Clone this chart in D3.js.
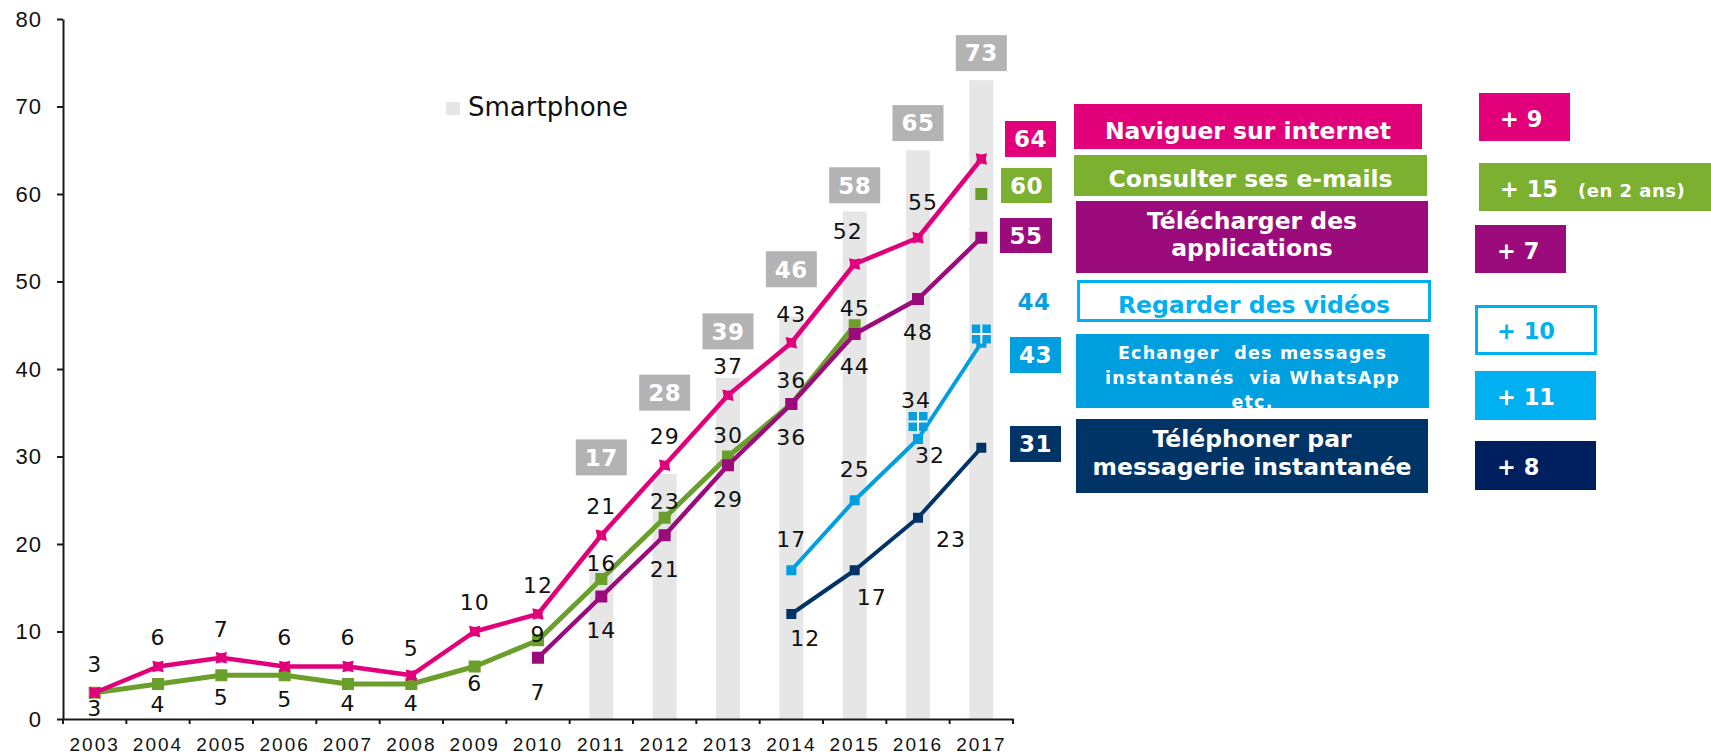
<!DOCTYPE html>
<html>
<head>
<meta charset="utf-8">
<script src="https://cdn.jsdelivr.net/npm/d3@7"></script>
<style>
  body { margin: 0; background: #fff; }
  svg { font-family: "DejaVu Sans", Verdana, sans-serif; }
  text { white-space: pre; }
</style>
</head>
<body>
<svg id="chart" width="1711" height="755"></svg>
<script>
// values
const years = ['2003','2004','2005','2006','2007','2008','2009','2010','2011','2012','2013','2014','2015','2016','2017'];
const smartphone = [null, null, null, null, null, null, null, null, 17, 28, 39, 46, 58, 65, 73];
const naviguer   = [3, 6, 7, 6, 6, 5, 10, 12, 21, 29, 37, 43, 52, 55, 64];
const emails     = [3, 4, 5, 5, 4, 4, 6, 9, 16, 23, 30, 36, 45, null, 60];
const applis     = [null, null, null, null, null, null, null, 7, 14, 21, 29, 36, 44, 48, 55];
const videos     = [null, null, null, null, null, null, null, null, null, null, null, null, null, 34, 44];
const messagerie = [null, null, null, null, null, null, null, null, null, null, null, 17, 25, 32, 43];
const telephoner = [null, null, null, null, null, null, null, null, null, null, null, 12, 17, 23, 31];
const yTicks = [0, 10, 20, 30, 40, 50, 60, 70, 80];

const rowNames = [
  ['Naviguer sur internet'],
  ['Consulter ses e-mails'],
  ['Télécharger des', 'applications'],
  ['Regarder des vidéos'],
  ['Echanger  des messages', 'instantanés  via WhatsApp', 'etc.'],
  ['Téléphoner par', 'messagerie instantanée']
];
const gains = ['+ 9', '+ 15', '+ 7', '+ 10', '+ 11', '+ 8'];

// where the grey value boxes sit (in data units)
const smartLabelAt = [null, null, null, null, null, null, null, null, 29.9, 37.3, 44.3, 51.4, 61, 68.1, 76.1];

const svg = d3.select('#chart');

const x = d3.scaleBand().domain(years).range([63, 1013]);
const y = d3.scaleLinear().domain([0, 80]).range([719, 19]);
const cx = i => x(years[i]) + x.bandwidth() / 2;

// smartphone bars
const barW = 24;
svg.append('g').selectAll('rect')
  .data(smartphone.map((v, i) => ({ v, i })).filter(d => d.v != null))
  .join('rect')
  .attr('x', d => cx(d.i) - barW / 2)
  .attr('y', d => y(d.v))
  .attr('width', barW)
  .attr('height', d => y(0) - y(d.v))
  .attr('fill', '#e6e6e6');

const smartLab = svg.append('g').selectAll('g')
  .data(smartphone.map((v, i) => ({ v, i })).filter(d => d.v != null))
  .join('g')
  .attr('transform', d => `translate(${cx(d.i)},${y(smartLabelAt[d.i])})`);
smartLab.append('rect')
  .attr('x', -25.5).attr('y', -18).attr('width', 51).attr('height', 36)
  .attr('fill', '#b3b3b3');
smartLab.append('text')
  .attr('text-anchor', 'middle').attr('dy', '0.36em')
  .attr('fill', '#fff').attr('font-weight', 'bold').attr('font-size', 23).attr('letter-spacing', 0.5)
  .text(d => d.v);

// legend "Smartphone"
svg.append('rect').attr('x', 446).attr('y', 102).attr('width', 14).attr('height', 13).attr('fill', '#e6e6e6');
svg.append('text').attr('x', 468).attr('y', 116).attr('font-size', 26).attr('fill', '#111').text('Smartphone');

// axes
const yAxis = svg.append('g')
  .attr('transform', 'translate(63,0)')
  .call(d3.axisLeft(y).tickValues(yTicks).tickSize(6).tickSizeOuter(0).tickPadding(15));
yAxis.selectAll('text').attr('font-size', 22).attr('letter-spacing', 1).attr('fill', '#111').attr('font-family', null);
yAxis.selectAll('line, path').attr('stroke', '#1a1a1a').attr('stroke-width', 2);

const xAxis = svg.append('g')
  .attr('transform', 'translate(0,719)')
  .call(d3.axisBottom(x).tickSize(0).tickPadding(19));
xAxis.selectAll('text').attr('font-size', 19).attr('letter-spacing', 2).attr('fill', '#111').attr('font-family', null);
xAxis.select('path').attr('stroke', '#1a1a1a').attr('stroke-width', 2);
xAxis.selectAll('.edge')
  .data(years.concat(['end']))
  .join('line')
  .attr('class', 'edge')
  .attr('x1', d => d === 'end' ? x.range()[1] : x(d))
  .attr('x2', d => d === 'end' ? x.range()[1] : x(d))
  .attr('y1', 0).attr('y2', 5)
  .attr('stroke', '#1a1a1a').attr('stroke-width', 2);

// series lines
function starPath(r, ri) {
  const p = [];
  for (let k = 0; k < 8; k++) {
    const a = Math.PI / 4 + k * Math.PI / 4;
    const rr = k % 2 === 0 ? r : ri;
    p.push([Math.cos(a) * rr, Math.sin(a) * rr]);
  }
  return 'M' + p.map(q => q.join(',')).join('L') + 'Z';
}

const series = [
  { values: emails,     color: '#6a9f2b', width: 5,   marker: 'square', size: 12,
    dy: [15, 20, 22, 24, 19, 19, 17, -6, -16, -17, -21, -24, -17, null, null], dx: [] },
  { values: applis,     color: '#9b0b7b', width: 4.5, marker: 'square', size: 12,
    dy: [null, null, null, null, null, null, null, 34, 34, 34, 34, 33, 32, 33, null], dx: [] },
  { values: naviguer,   color: '#e2007a', width: 4.5, marker: 'star', size: 8,
    dy: [-29, -29, -29, -29, -29, -27, -29, -29, -29, -29, -29, -29, -33, -36, null],
    dx: [0, 0, 0, 0, 0, 0, 0, 0, 0, 0, 0, 0, -7, 5, 0] },
  { values: messagerie, color: '#00a0e0', width: 4,   marker: 'square', size: 10,
    dy: [null, null, null, null, null, null, null, null, null, null, null, -31, -31, 16, null],
    dx: [0, 0, 0, 0, 0, 0, 0, 0, 0, 0, 0, 0, 0, 12, 0] },
  { values: telephoner, color: '#003366', width: 4,   marker: 'square', size: 10,
    dy: [null, null, null, null, null, null, null, null, null, null, null, 24, 27, 21, null],
    dx: [0, 0, 0, 0, 0, 0, 0, 0, 0, 0, 0, 14, 17, 33, 0] }
];

const line = d3.line()
  .defined(d => d.v != null)
  .x(d => cx(d.i))
  .y(d => y(d.v));

series.forEach(s => {
  const pts = s.values.map((v, i) => ({ v, i }));
  const g = svg.append('g');
  g.append('path')
    .datum(pts)
    .attr('d', line)
    .attr('fill', 'none')
    .attr('stroke', s.color)
    .attr('stroke-width', s.width)
    .attr('stroke-linejoin', 'round');
  const on = pts.filter(d => d.v != null);
  if (s.marker === 'square') {
    g.selectAll('rect').data(on).join('rect')
      .attr('x', d => cx(d.i) - s.size / 2)
      .attr('y', d => y(d.v) - s.size / 2)
      .attr('width', s.size).attr('height', s.size)
      .attr('fill', s.color);
  } else {
    g.selectAll('path.m').data(on).join('path')
      .attr('class', 'm')
      .attr('d', starPath(s.size, 4.5))
      .attr('transform', d => `translate(${cx(d.i)},${y(d.v)})`)
      .attr('fill', s.color);
  }
});

// "Regarder des vidéos" markers
const vid = svg.append('g').selectAll('g')
  .data(videos.map((v, i) => ({ v, i })).filter(d => d.v != null))
  .join('g')
  .attr('transform', d => `translate(${cx(d.i)},${y(d.v)})`);
vid.append('rect').attr('x', -9.5).attr('y', -9.5).attr('width', 19).attr('height', 19).attr('fill', '#0a9ede');
vid.append('line').attr('x1', -9.5).attr('x2', 9.5).attr('y1', 0).attr('y2', 0).attr('stroke', '#fff').attr('stroke-width', 2);
vid.append('line').attr('x1', 0).attr('x2', 0).attr('y1', -9.5).attr('y2', 9.5).attr('stroke', '#fff').attr('stroke-width', 2);

// data labels
const labG = svg.append('g').attr('font-size', 22).attr('letter-spacing', 1).attr('fill', '#111').attr('text-anchor', 'middle');
series.forEach(s => {
  s.values.forEach((v, i) => {
    if (v == null || s.dy[i] == null) return;
    labG.append('text')
      .attr('x', cx(i) + (s.dx[i] || 0))
      .attr('y', y(v) + s.dy[i])
      .attr('dy', '0.36em')
      .text(v);
  });
});
videos.forEach((v, i) => {
  if (v == null || i === years.length - 1) return;
  labG.append('text').attr('x', cx(i) - 2).attr('y', y(v) - 21).attr('dy', '0.36em').text(v);
});

// right-hand panel
const endValues = [naviguer, emails, applis, videos, messagerie, telephoner].map(a => a[a.length - 1]);
const rowColor  = ['#e2007a', '#7bb031', '#9c0b7b', '#00b0f0', '#009fe0', '#003366'];
const gainColor = ['#e2007a', '#7bb031', '#9c0b7b', '#00b0f0', '#00b0f0', '#001f5f'];
const rowLayout = [
  { val: [1005, 121, 51, 36], box: [1074, 104, 348, 45], gain: [1479, 93, 91, 48],  gx: 1500, gb: 127, lines: [138.5], fs: 23.5 },
  { val: [1001, 168, 51, 35], box: [1074, 155, 353, 41], gain: [1479, 163, 232, 48], gx: 1500, gb: 197, lines: [187], fs: 23.5 },
  { val: [1000, 218, 52, 35], box: [1076, 201, 352, 72], gain: [1475, 225, 91, 48],  gx: 1497, gb: 258.5, lines: [229, 256], fs: 23.5 },
  { val: null,                box: [1077, 280, 354, 42], gain: [1475, 305, 122, 50], gx: 1497, gb: 338.5, lines: [312.5], fs: 23.5, outline: true },
  { val: [1010, 337, 51, 36], box: [1076, 334, 353, 74], gain: [1475, 371, 121, 49], gx: 1497, gb: 405, lines: [358.5, 383.5, 408], fs: 17.5, ls: 1.2 },
  { val: [1010, 426, 51, 36], box: [1076, 419, 352, 74], gain: [1475, 441, 121, 49], gx: 1497, gb: 475, lines: [447, 475], fs: 23.5 }
];

const panel = svg.append('g').attr('font-weight', 'bold');
rowLayout.forEach((r, k) => {
  // value at 2017
  if (r.val) {
    panel.append('rect').attr('x', r.val[0]).attr('y', r.val[1]).attr('width', r.val[2]).attr('height', r.val[3]).attr('fill', rowColor[k]);
    panel.append('text').attr('x', r.val[0] + r.val[2] / 2).attr('y', r.val[1] + r.val[3] / 2).attr('dy', '0.36em')
      .attr('text-anchor', 'middle').attr('font-size', 23).attr('letter-spacing', 0.5).attr('fill', '#fff').text(endValues[k]);
  } else {
    panel.append('text').attr('x', 1034).attr('y', 302).attr('dy', '0.36em')
      .attr('text-anchor', 'middle').attr('font-size', 23).attr('letter-spacing', 0.5).attr('fill', '#0a9ede').text(endValues[k]);
  }
  // name box
  const b = r.box;
  if (r.outline) {
    panel.append('rect').attr('x', b[0] + 1.5).attr('y', b[1] + 1.5).attr('width', b[2] - 3).attr('height', b[3] - 3)
      .attr('fill', '#fff').attr('stroke', rowColor[k]).attr('stroke-width', 3);
  } else {
    panel.append('rect').attr('x', b[0]).attr('y', b[1]).attr('width', b[2]).attr('height', b[3]).attr('fill', rowColor[k]);
  }
  rowNames[k].forEach((t, j) => {
    panel.append('text').attr('x', b[0] + b[2] / 2).attr('y', r.lines[j])
      .attr('text-anchor', 'middle').attr('font-size', r.fs).attr('letter-spacing', r.ls || 0)
      .attr('fill', r.outline ? rowColor[k] : '#fff').text(t);
  });
  // gain box
  const gb = r.gain;
  if (r.outline) {
    panel.append('rect').attr('x', gb[0] + 1.5).attr('y', gb[1] + 1.5).attr('width', gb[2] - 3).attr('height', gb[3] - 3)
      .attr('fill', '#fff').attr('stroke', gainColor[k]).attr('stroke-width', 3);
  } else {
    panel.append('rect').attr('x', gb[0]).attr('y', gb[1]).attr('width', gb[2]).attr('height', gb[3]).attr('fill', gainColor[k]);
  }
  panel.append('text').attr('x', r.gx).attr('y', r.gb).attr('font-size', 22.5)
    .attr('fill', r.outline ? gainColor[k] : '#fff').text(gains[k]);
});
panel.append('text').attr('x', 1578).attr('y', 197).attr('font-size', 18).attr('letter-spacing', 0.5)
  .attr('fill', '#fff').text('(en 2 ans)');
</script>
</body>
</html>
